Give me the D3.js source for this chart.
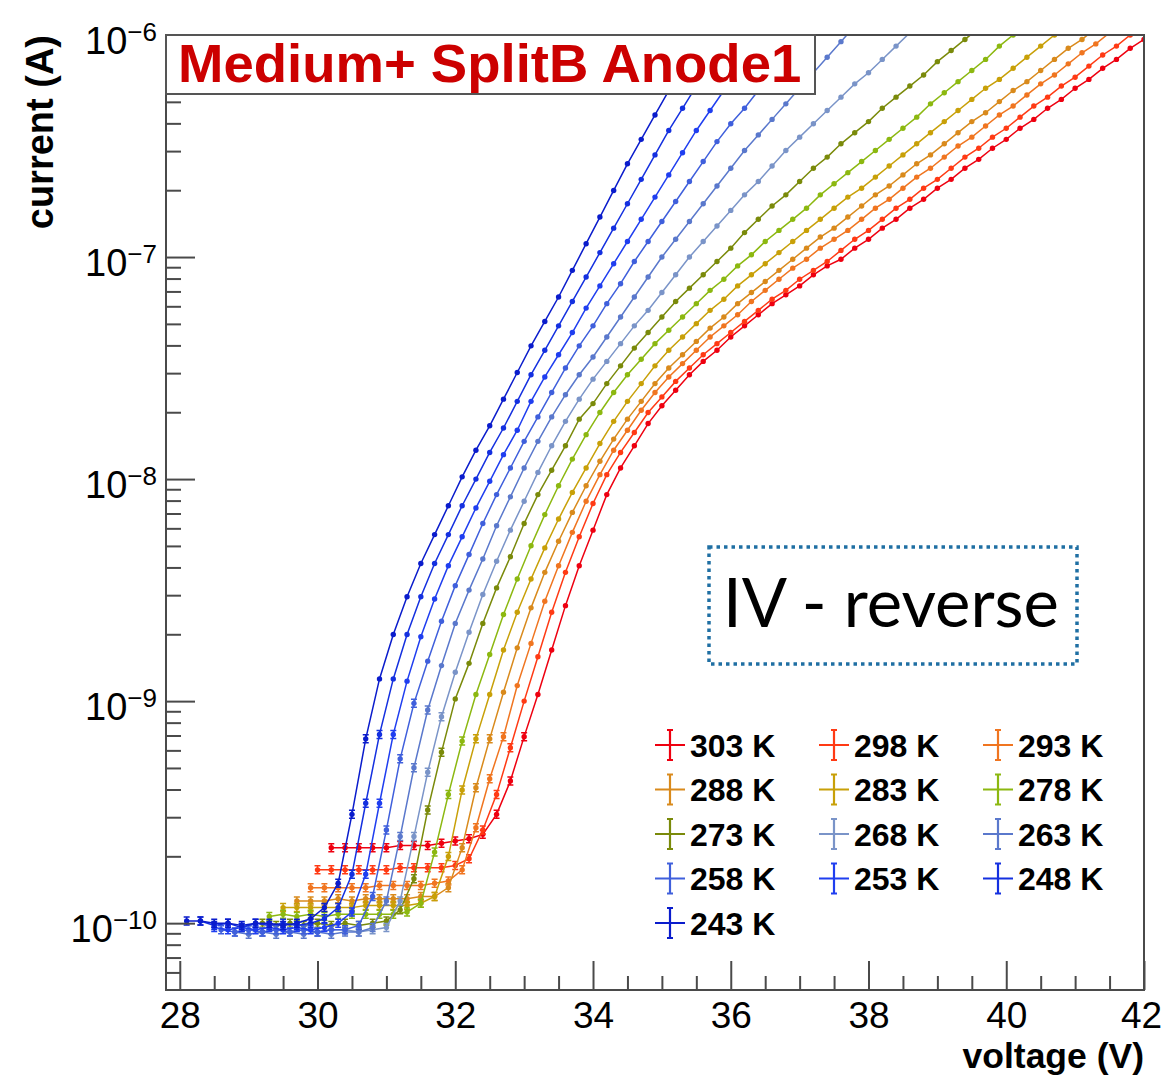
<!DOCTYPE html>
<html><head><meta charset="utf-8">
<script src="https://cdn.jsdelivr.net/npm/d3@7"></script>
<style>body{margin:0;background:#fff}svg{display:block}</style>
</head><body>
<svg id="chart" width="1164" height="1076"></svg>
<script>
// ---------------- data ----------------
const temperaturesK = [303, 298, 293, 288, 283, 278, 273, 268, 263, 258, 253, 248, 243];
const seriesColors = ["#ee0010", "#ff3a14", "#f07520", "#d98a1c", "#c8a008", "#8cb810", "#7a8a0a",
                      "#7a94c8", "#5a78cc", "#3f5fdc", "#1f3ef0", "#1430e0", "#0a1ccc"];
const startVoltage = [30.2, 30.0, 29.9, 29.7, 29.5, 29.3, 29.2, 29.0, 28.8, 28.6, 28.5, 28.3, 28.1];
const voltageStep = 0.2;
// log10 of current (A) at each measured voltage step
const log10I_303 = [-9.66,-9.66,-9.66,-9.66,-9.66,-9.65,-9.65,-9.65,-9.64,-9.63,-9.62,-9.60,-9.51,-9.36,-9.16,-8.97,-8.77,-8.57,-8.39,-8.23,-8.07,-7.95,-7.85,-7.75,-7.67,-7.60,-7.53,-7.47,-7.42,-7.36,-7.31,-7.26,-7.21,-7.17,-7.13,-7.08,-7.04,-7.01,-6.96,-6.92,-6.87,-6.83,-6.78,-6.74,-6.69,-6.65,-6.60,-6.56,-6.51,-6.47,-6.42,-6.38,-6.33,-6.29,-6.24,-6.20,-6.15,-6.11,-6.06,-6.02];
const log10I_298 = [-9.76,-9.76,-9.76,-9.76,-9.76,-9.76,-9.75,-9.75,-9.75,-9.75,-9.74,-9.71,-9.58,-9.42,-9.21,-9.00,-8.80,-8.60,-8.42,-8.26,-8.11,-7.98,-7.88,-7.79,-7.70,-7.63,-7.56,-7.50,-7.44,-7.39,-7.34,-7.29,-7.24,-7.19,-7.15,-7.10,-7.06,-7.02,-6.97,-6.92,-6.88,-6.83,-6.78,-6.74,-6.69,-6.65,-6.60,-6.55,-6.51,-6.46,-6.42,-6.37,-6.32,-6.28,-6.23,-6.19,-6.14,-6.09,-6.05,-6.00,-5.96];
const log10I_293 = [-9.84,-9.84,-9.84,-9.84,-9.84,-9.83,-9.83,-9.83,-9.83,-9.82,-9.81,-9.76,-9.57,-9.35,-9.16,-8.93,-8.74,-8.55,-8.39,-8.24,-8.10,-7.98,-7.87,-7.78,-7.69,-7.61,-7.54,-7.48,-7.42,-7.36,-7.31,-7.26,-7.20,-7.15,-7.10,-7.05,-7.01,-6.96,-6.92,-6.88,-6.83,-6.78,-6.74,-6.69,-6.64,-6.60,-6.55,-6.50,-6.46,-6.41,-6.36,-6.32,-6.27,-6.22,-6.18,-6.13,-6.08,-6.04,-5.99];
const log10I_288 = [-9.90,-9.90,-9.90,-9.89,-9.90,-9.89,-9.89,-9.89,-9.89,-9.88,-9.88,-9.84,-9.66,-9.39,-9.17,-8.96,-8.76,-8.58,-8.42,-8.28,-8.15,-8.03,-7.92,-7.82,-7.73,-7.65,-7.57,-7.50,-7.44,-7.38,-7.32,-7.27,-7.21,-7.16,-7.11,-7.06,-7.01,-6.96,-6.91,-6.87,-6.82,-6.77,-6.72,-6.68,-6.63,-6.58,-6.54,-6.49,-6.44,-6.39,-6.35,-6.30,-6.25,-6.21,-6.16,-6.11,-6.06,-6.02,-5.97];
const log10I_283 = [-9.93,-9.93,-9.93,-9.93,-9.93,-9.93,-9.92,-9.92,-9.92,-9.92,-9.91,-9.88,-9.70,-9.40,-9.17,-8.97,-8.77,-8.60,-8.45,-8.31,-8.18,-8.06,-7.95,-7.84,-7.74,-7.65,-7.57,-7.49,-7.42,-7.36,-7.30,-7.24,-7.19,-7.13,-7.08,-7.03,-6.98,-6.93,-6.88,-6.83,-6.78,-6.73,-6.69,-6.64,-6.59,-6.54,-6.49,-6.44,-6.39,-6.34,-6.29,-6.24,-6.20,-6.15,-6.10,-6.05,-6.00,-5.95];
const log10I_278 = [-9.97,-9.96,-9.97,-9.96,-9.97,-9.96,-9.96,-9.96,-9.96,-9.96,-9.95,-9.91,-9.68,-9.42,-9.18,-8.97,-8.79,-8.61,-8.45,-8.30,-8.16,-8.03,-7.91,-7.80,-7.70,-7.61,-7.53,-7.46,-7.39,-7.33,-7.27,-7.21,-7.15,-7.10,-7.04,-6.99,-6.93,-6.88,-6.83,-6.78,-6.72,-6.67,-6.62,-6.57,-6.52,-6.47,-6.42,-6.37,-6.31,-6.26,-6.21,-6.16,-6.11,-6.05,-6.00,-5.95];
const log10I_273 = [-10.00,-10.01,-10.00,-10.01,-10.00,-10.01,-10.00,-10.01,-10.00,-9.99,-9.94,-9.80,-9.49,-9.23,-8.99,-8.83,-8.65,-8.49,-8.35,-8.20,-8.07,-7.96,-7.85,-7.73,-7.66,-7.57,-7.49,-7.41,-7.34,-7.27,-7.20,-7.14,-7.08,-7.02,-6.96,-6.89,-6.83,-6.77,-6.72,-6.66,-6.60,-6.55,-6.49,-6.44,-6.39,-6.33,-6.28,-6.23,-6.18,-6.12,-6.07,-6.02,-5.97];
const log10I_268 = [-10.03,-10.04,-10.03,-10.04,-10.03,-10.04,-10.03,-10.03,-10.04,-10.03,-10.02,-9.90,-9.61,-9.32,-9.07,-8.87,-8.69,-8.52,-8.37,-8.23,-8.10,-7.97,-7.85,-7.74,-7.64,-7.55,-7.47,-7.39,-7.31,-7.24,-7.16,-7.08,-7.00,-6.93,-6.86,-6.79,-6.72,-6.66,-6.59,-6.52,-6.46,-6.40,-6.34,-6.28,-6.22,-6.17,-6.11,-6.05,-5.99];
const log10I_263 = [-10.04,-10.05,-10.04,-10.05,-10.04,-10.05,-10.04,-10.05,-10.04,-10.04,-10.02,-9.90,-9.61,-9.30,-9.04,-8.84,-8.65,-8.50,-8.36,-8.21,-8.08,-7.95,-7.83,-7.72,-7.62,-7.53,-7.45,-7.36,-7.27,-7.18,-7.09,-7.00,-6.92,-6.84,-6.76,-6.68,-6.60,-6.52,-6.45,-6.38,-6.31,-6.24,-6.17,-6.10,-6.03,-5.96];
const log10I_258 = [-10.03,-10.04,-10.03,-10.04,-10.03,-10.04,-10.03,-10.04,-10.03,-10.03,-10.01,-9.88,-9.58,-9.26,-9.01,-8.82,-8.64,-8.48,-8.34,-8.20,-8.07,-7.95,-7.83,-7.72,-7.61,-7.50,-7.40,-7.31,-7.21,-7.12,-7.02,-6.93,-6.84,-6.75,-6.66,-6.57,-6.48,-6.40,-6.33,-6.25,-6.17,-6.09,-6.01,-5.93];
const log10I_253 = [-10.02,-10.03,-10.02,-10.03,-10.02,-10.03,-10.02,-10.03,-10.02,-10.00,-9.95,-9.78,-9.46,-9.15,-8.91,-8.71,-8.54,-8.39,-8.26,-8.13,-8.01,-7.89,-7.78,-7.65,-7.54,-7.44,-7.34,-7.23,-7.13,-7.03,-6.93,-6.83,-6.73,-6.63,-6.53,-6.43,-6.34,-6.25,-6.17,-6.08,-5.99];
const log10I_248 = [-9.99,-10.01,-10.00,-10.02,-10.00,-10.01,-10.00,-10.01,-10.00,-9.98,-9.93,-9.78,-9.46,-9.15,-8.90,-8.70,-8.53,-8.38,-8.25,-8.12,-8.00,-7.88,-7.77,-7.65,-7.53,-7.42,-7.31,-7.20,-7.09,-6.98,-6.87,-6.76,-6.65,-6.54,-6.43,-6.33,-6.23,-6.13,-6.03,-5.93];
const log10I_243 = [-9.99,-9.99,-10.00,-10.00,-10.01,-10.00,-10.00,-10.01,-10.00,-9.98,-9.93,-9.82,-9.51,-9.17,-8.90,-8.70,-8.53,-8.38,-8.25,-8.12,-7.99,-7.87,-7.76,-7.64,-7.52,-7.40,-7.29,-7.18,-7.06,-6.94,-6.82,-6.70,-6.58,-6.47,-6.36,-6.25,-6.14,-6.03,-5.93];
const seriesLog10I = [log10I_303, log10I_298, log10I_293, log10I_288, log10I_283, log10I_278, log10I_273,
                      log10I_268, log10I_263, log10I_258, log10I_253, log10I_248, log10I_243];

const xMajorTicks = [28, 30, 32, 34, 36, 38, 40, 42];
const yMajorExponents = [-10, -9, -8, -7, -6];
const titleText = "Medium+ SplitB Anode1";
const xTitle = "voltage (V)";
const yTitle = "current (A)";
const noteText = "IV - reverse";

// ---------------- layout ----------------
const L = 166, R = 1144, T = 35, B = 990;
const svg = d3.select("#chart");
const FONT = "'Liberation Sans', Arial, Helvetica, sans-serif";
const AX = "#4a4a4a";

const x = d3.scaleLinear().domain([27.8, 42.0]).range([L, R]);
const y = d3.scaleLog().domain([5e-11, 1e-6]).range([B, T]);

svg.append("defs").append("clipPath").attr("id", "plotclip")
  .append("rect").attr("x", L).attr("y", T).attr("width", R - L).attr("height", B - T);

// ---------------- series ----------------
const series = temperaturesK.map((t, k) => ({
  t, color: seriesColors[k],
  pts: seriesLog10I[k].map((l, i) => ({ v: startVoltage[k] + i * voltageStep, cur: Math.pow(10, l) }))
}));

const plot = svg.append("g").attr("clip-path", "url(#plotclip)");
const line = d3.line().x(d => x(d.v)).y(d => y(d.cur));

series.forEach(s => {
  const g = plot.append("g");
  g.append("path").attr("d", line(s.pts)).attr("fill", "none")
    .attr("stroke", s.color).attr("stroke-width", 1.5);
  // error bars (visible on low-current points)
  const low = s.pts.filter(d => d.cur < 1e-9);
  g.selectAll("path.eb").data(low).join("path").attr("class", "eb")
    .attr("d", d => {
      const cx = x(d.v), cy = y(d.cur);
      return `M${cx},${cy - 4}L${cx},${cy + 4}M${cx - 3},${cy - 4}L${cx + 3},${cy - 4}M${cx - 3},${cy + 4}L${cx + 3},${cy + 4}`;
    })
    .attr("stroke", s.color).attr("stroke-width", 1.5).attr("fill", "none");
  g.selectAll("circle").data(s.pts).join("circle")
    .attr("cx", d => x(d.v)).attr("cy", d => y(d.cur)).attr("r", 2.7)
    .attr("fill", s.color);
});

// ---------------- axes ----------------
function styleAxis(g) {
  g.select(".domain").remove();
  g.selectAll(".tick line").attr("stroke", AX).attr("stroke-width", 2);
}
// x axis
const xMinor = d3.range(28, 42.01, 0.5).filter(v => !xMajorTicks.includes(v));
svg.append("g").attr("transform", `translate(0,${B})`)
  .call(d3.axisBottom(x).tickValues(xMinor).tickSize(-14).tickFormat(""))
  .call(styleAxis);
const gx = svg.append("g").attr("transform", `translate(0,${B})`)
  .call(d3.axisBottom(x).tickValues(xMajorTicks).tickSize(-29).tickPadding(12).tickFormat(d3.format("d")))
  .call(styleAxis);
gx.selectAll(".tick text").attr("font-family", FONT).attr("font-size", 37).attr("fill", "#000")
  .attr("dx", d => d === 42 ? -3 : 0);

// y axis
const yMinor = [];
for (let e = -11; e <= -7; e++) for (let m = 2; m <= 9; m++) {
  const v = m * Math.pow(10, e);
  if (v >= 5e-11 && v <= 1e-6) yMinor.push(v);
}
svg.append("g").attr("transform", `translate(${L},0)`)
  .call(d3.axisLeft(y).tickValues(yMinor).tickSize(-15).tickFormat(""))
  .call(styleAxis);
const gy = svg.append("g").attr("transform", `translate(${L},0)`)
  .call(d3.axisLeft(y).tickValues(yMajorExponents.map(e => Math.pow(10, e))).tickSize(-29).tickPadding(9))
  .call(styleAxis);
gy.selectAll(".tick text").each(function (d) {
  const e = Math.round(Math.log10(d));
  const t = d3.select(this).text(null).attr("font-family", FONT).attr("fill", "#000")
    .attr("dy", "0").attr("y", 18);
  t.append("tspan").attr("font-size", 38).text("10");
  t.append("tspan").attr("font-size", 26).attr("dy", -13).text("\u2212" + (-e));
});

// frame
svg.append("rect").attr("x", L).attr("y", T).attr("width", R - L).attr("height", B - T)
  .attr("fill", "none").attr("stroke", AX).attr("stroke-width", 2);

// axis titles
svg.append("text").attr("transform", `translate(53,${T}) rotate(-90)`)
  .attr("text-anchor", "end").attr("font-family", FONT).attr("font-weight", "bold")
  .attr("font-size", 38).text(yTitle);
svg.append("text").attr("x", R).attr("y", 1068)
  .attr("text-anchor", "end").attr("font-family", FONT).attr("font-weight", "bold")
  .attr("font-size", 35.5).text(xTitle);

// title box
svg.append("rect").attr("x", L).attr("y", T).attr("width", 815 - L).attr("height", 94 - T)
  .attr("fill", "#fff").attr("stroke", "#555").attr("stroke-width", 2);
svg.append("text").attr("x", 178).attr("y", 82).attr("font-family", FONT).attr("font-weight", "bold")
  .attr("font-size", 54.5).attr("fill", "#cc0000").text(titleText);

// legend
const colX = [670, 834, 998];
series.forEach((s, i) => {
  const cx = colX[i % 3], cy = 745 + Math.floor(i / 3) * 44.5;
  const g = svg.append("g");
  g.append("path").attr("d",
    `M${cx - 15},${cy}L${cx + 15},${cy}M${cx},${cy - 15}L${cx},${cy + 15}M${cx - 3},${cy - 15}L${cx + 3},${cy - 15}M${cx - 3},${cy + 15}L${cx + 3},${cy + 15}`)
    .attr("stroke", s.color).attr("stroke-width", 2.2).attr("fill", "none");
  g.append("text").attr("x", cx + 20).attr("y", cy + 11.5).attr("font-family", FONT)
    .attr("font-weight", "bold").attr("font-size", 32).attr("fill", "#000").text(s.t + " K");
});

// annotation box
svg.append("rect").attr("x", 709).attr("y", 547).attr("width", 1077 - 709).attr("height", 664 - 547)
  .attr("fill", "#fff").attr("stroke", "#1f6fa3").attr("stroke-width", 3.5).attr("stroke-dasharray", "3.5 4");
const note = svg.append("text").attr("x", 723).attr("y", 627)
  .attr("font-family", "Lato, 'Open Sans', sans-serif").attr("font-size", 60).attr("fill", "#000").text(noteText);
const w = note.node().getComputedTextLength();
note.attr("font-size", 60 * 336 / w);
</script>
</body></html>
